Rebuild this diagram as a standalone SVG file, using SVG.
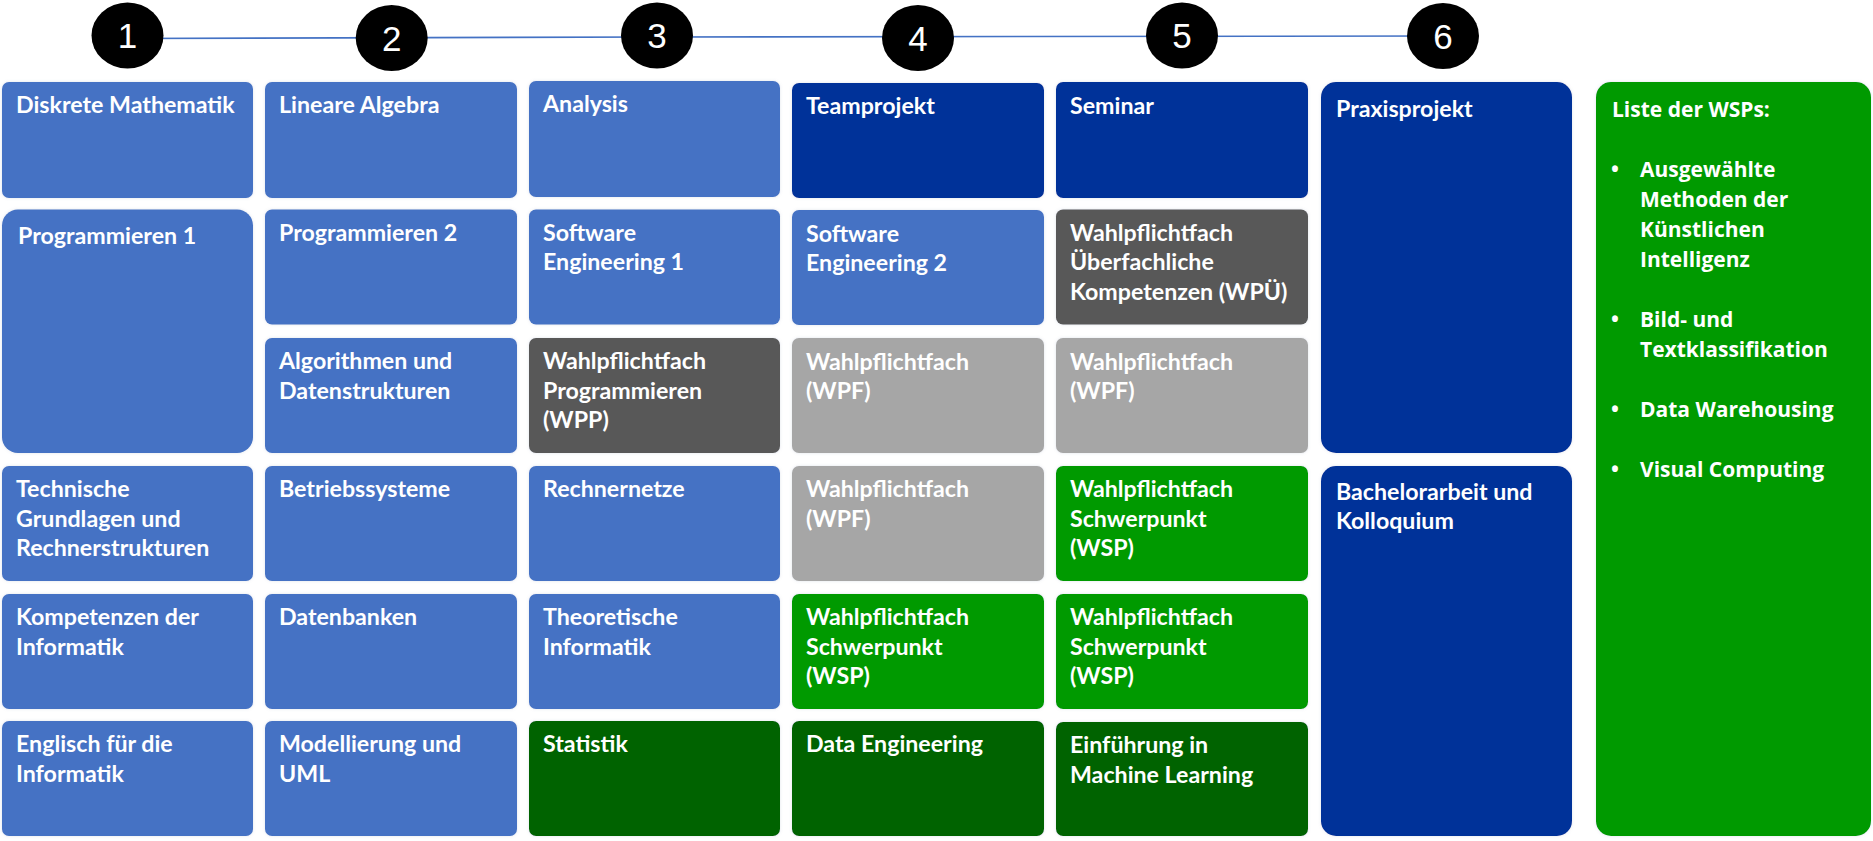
<svg xmlns="http://www.w3.org/2000/svg" width="1873" height="841" viewBox="0 0 1873 841">
<defs>
<style>
.lb{fill:#4472C4}.db{fill:#003399}.dg{fill:#595959}.lg{fill:#A6A6A6}.gr{fill:#009A00}.dk{fill:#006400}
.bx{filter:url(#sh)}
.t{font-family:Lato,"Liberation Sans",sans-serif;font-weight:700;font-size:23.2px;fill:#fff}
.w{font-family:"Open Sans","Liberation Sans",sans-serif;font-weight:700;font-size:21px;fill:#fff}
.num{font-family:"Liberation Sans",Arial,sans-serif;font-size:35px;fill:#fff;text-anchor:middle}
.circ{fill:#000}
.conn{stroke:#4472C4;stroke-width:1.6;fill:none}
</style>
<filter id="sh" x="-5%" y="-5%" width="110%" height="110%">
<feDropShadow dx="0" dy="0" stdDeviation="1.5" flood-color="#8090b0" flood-opacity="0.25"/>
</filter>
</defs>
<rect width="1873" height="841" fill="#fff"/>

<g id="connectors">
<polyline class="conn" points="127,38.5 657,37 1443,36"/>
</g>

<g id="sem1"><ellipse class="circ" cx="127.5" cy="35.5" rx="36" ry="33"/><text class="num" x="127.5" y="48">1</text></g>
<g id="sem2"><ellipse class="circ" cx="391.7" cy="38" rx="36" ry="33"/><text class="num" x="391.7" y="50.5">2</text></g>
<g id="sem3"><ellipse class="circ" cx="657" cy="35.5" rx="36" ry="33"/><text class="num" x="657" y="48">3</text></g>
<g id="sem4"><ellipse class="circ" cx="918" cy="38" rx="36" ry="33"/><text class="num" x="918" y="50.5">4</text></g>
<g id="sem5"><ellipse class="circ" cx="1182" cy="35.5" rx="36" ry="33"/><text class="num" x="1182" y="48">5</text></g>
<g id="sem6"><ellipse class="circ" cx="1443" cy="36" rx="36" ry="33"/><text class="num" x="1443" y="48.5">6</text></g>

<!-- Column 1 -->
<g id="diskrete-mathematik"><rect class="lb bx" x="2" y="82" width="251" height="116" rx="7"/><text class="t" x="16" y="113">Diskrete Mathematik</text></g>
<g id="programmieren-1"><rect class="lb bx" x="2" y="209.5" width="251" height="243.5" rx="16"/><text class="t" x="18" y="243.5">Programmieren 1</text></g>
<g id="technische-grundlagen"><rect class="lb bx" x="2" y="466" width="251" height="115" rx="7"/><text class="t" y="497"><tspan x="16">Technische</tspan><tspan x="16" dy="29.7">Grundlagen und</tspan><tspan x="16" dy="29.7">Rechnerstrukturen</tspan></text></g>
<g id="kompetenzen-informatik"><rect class="lb bx" x="2" y="594" width="251" height="115" rx="7"/><text class="t" y="625"><tspan x="16">Kompetenzen der</tspan><tspan x="16" dy="29.7">Informatik</tspan></text></g>
<g id="englisch"><rect class="lb bx" x="2" y="721" width="251" height="115" rx="7"/><text class="t" y="752"><tspan x="16">Englisch für die</tspan><tspan x="16" dy="29.7">Informatik</tspan></text></g>

<!-- Column 2 -->
<g id="lineare-algebra"><rect class="lb bx" x="265" y="82" width="252" height="116" rx="7"/><text class="t" x="279" y="113">Lineare Algebra</text></g>
<g id="programmieren-2"><rect class="lb bx" x="265" y="209.5" width="252" height="115" rx="7"/><text class="t" x="279" y="240.5">Programmieren 2</text></g>
<g id="algorithmen"><rect class="lb bx" x="265" y="338" width="252" height="115" rx="7"/><text class="t" y="369"><tspan x="279">Algorithmen und</tspan><tspan x="279" dy="29.7">Datenstrukturen</tspan></text></g>
<g id="betriebssysteme"><rect class="lb bx" x="265" y="466" width="252" height="115" rx="7"/><text class="t" x="279" y="497">Betriebssysteme</text></g>
<g id="datenbanken"><rect class="lb bx" x="265" y="594" width="252" height="115" rx="7"/><text class="t" x="279" y="625">Datenbanken</text></g>
<g id="modellierung"><rect class="lb bx" x="265" y="721" width="252" height="115" rx="7"/><text class="t" y="752"><tspan x="279">Modellierung und</tspan><tspan x="279" dy="29.7">UML</tspan></text></g>

<!-- Column 3 -->
<g id="analysis"><rect class="lb bx" x="529" y="81" width="251" height="116" rx="7"/><text class="t" x="543" y="112">Analysis</text></g>
<g id="software-engineering-1"><rect class="lb bx" x="529" y="209.5" width="251" height="115" rx="7"/><text class="t" y="240.5"><tspan x="543">Software</tspan><tspan x="543" dy="29.7">Engineering 1</tspan></text></g>
<g id="wpp"><rect class="dg bx" x="529" y="338" width="251" height="115" rx="7"/><text class="t" y="369"><tspan x="543">Wahlpflichtfach</tspan><tspan x="543" dy="29.7">Programmieren</tspan><tspan x="543" dy="29.7">(WPP)</tspan></text></g>
<g id="rechnernetze"><rect class="lb bx" x="529" y="466" width="251" height="115" rx="7"/><text class="t" x="543" y="497">Rechnernetze</text></g>
<g id="theoretische-informatik"><rect class="lb bx" x="529" y="594" width="251" height="115" rx="7"/><text class="t" y="625"><tspan x="543">Theoretische</tspan><tspan x="543" dy="29.7">Informatik</tspan></text></g>
<g id="statistik"><rect class="dk bx" x="529" y="721" width="251" height="115" rx="7"/><text class="t" x="543" y="752">Statistik</text></g>

<!-- Column 4 -->
<g id="teamprojekt"><rect class="db bx" x="792" y="83" width="252" height="115" rx="7"/><text class="t" x="806" y="113.5">Teamprojekt</text></g>
<g id="software-engineering-2"><rect class="lb bx" x="792" y="210" width="252" height="115" rx="7"/><text class="t" y="241.5"><tspan x="806">Software</tspan><tspan x="806" dy="29.7">Engineering 2</tspan></text></g>
<g id="wpf-4a"><rect class="lg bx" x="792" y="338" width="252" height="115" rx="7"/><text class="t" y="369.5"><tspan x="806">Wahlpflichtfach</tspan><tspan x="806" dy="29.7">(WPF)</tspan></text></g>
<g id="wpf-4b"><rect class="lg bx" x="792" y="466" width="252" height="115" rx="7"/><text class="t" y="497"><tspan x="806">Wahlpflichtfach</tspan><tspan x="806" dy="29.7">(WPF)</tspan></text></g>
<g id="wsp-4"><rect class="gr bx" x="792" y="594" width="252" height="115" rx="7"/><text class="t" y="625"><tspan x="806">Wahlpflichtfach</tspan><tspan x="806" dy="29.7">Schwerpunkt</tspan><tspan x="806" dy="29.7">(WSP)</tspan></text></g>
<g id="data-engineering"><rect class="dk bx" x="792" y="721" width="252" height="115" rx="7"/><text class="t" x="806" y="752">Data Engineering</text></g>

<!-- Column 5 -->
<g id="seminar"><rect class="db bx" x="1056" y="82" width="252" height="116" rx="7"/><text class="t" x="1070" y="113.5">Seminar</text></g>
<g id="wpue"><rect class="dg bx" x="1056" y="209.5" width="252" height="115" rx="7"/><text class="t" y="240.5"><tspan x="1070">Wahlpflichtfach</tspan><tspan x="1070" dy="29.7">Überfachliche</tspan><tspan x="1070" dy="29.7">Kompetenzen (WPÜ)</tspan></text></g>
<g id="wpf-5"><rect class="lg bx" x="1056" y="338" width="252" height="115" rx="7"/><text class="t" y="369.5"><tspan x="1070">Wahlpflichtfach</tspan><tspan x="1070" dy="29.7">(WPF)</tspan></text></g>
<g id="wsp-5a"><rect class="gr bx" x="1056" y="466" width="252" height="115" rx="7"/><text class="t" y="497"><tspan x="1070">Wahlpflichtfach</tspan><tspan x="1070" dy="29.7">Schwerpunkt</tspan><tspan x="1070" dy="29.7">(WSP)</tspan></text></g>
<g id="wsp-5b"><rect class="gr bx" x="1056" y="594" width="252" height="115" rx="7"/><text class="t" y="625"><tspan x="1070">Wahlpflichtfach</tspan><tspan x="1070" dy="29.7">Schwerpunkt</tspan><tspan x="1070" dy="29.7">(WSP)</tspan></text></g>
<g id="machine-learning"><rect class="dk bx" x="1056" y="722" width="252" height="114" rx="7"/><text class="t" y="753"><tspan x="1070">Einführung in</tspan><tspan x="1070" dy="29.7">Machine Learning</tspan></text></g>

<!-- Column 6 -->
<g id="praxisprojekt"><rect class="db bx" x="1321" y="82" width="251" height="371" rx="15"/><text class="t" x="1336" y="117">Praxisprojekt</text></g>
<g id="bachelorarbeit"><rect class="db bx" x="1321" y="466" width="251" height="370" rx="15"/><text class="t" y="499.5"><tspan x="1336">Bachelorarbeit und</tspan><tspan x="1336" dy="29.7">Kolloquium</tspan></text></g>

<!-- WSP list -->
<g id="wsp-liste"><rect class="gr bx" x="1596" y="82" width="275" height="754" rx="15"/>
<text class="w" x="1612" y="116.5">Liste der WSPs:</text>
<text class="w" x="1615" y="176.5" text-anchor="middle">•</text>
<text class="w" y="176.5"><tspan x="1640">Ausgewählte</tspan><tspan x="1640" dy="30.05">Methoden der</tspan><tspan x="1640" dy="30.05">Künstlichen</tspan><tspan x="1640" dy="30.05">Intelligenz</tspan></text>
<text class="w" x="1615" y="326.8" text-anchor="middle">•</text>
<text class="w" y="326.8"><tspan x="1640">Bild- und</tspan><tspan x="1640" dy="30.05">Textklassifikation</tspan></text>
<text class="w" x="1615" y="417.3" text-anchor="middle">•</text>
<text class="w" x="1640" y="417.3">Data Warehousing</text>
<text class="w" x="1615" y="477.4" text-anchor="middle">•</text>
<text class="w" x="1640" y="477.4">Visual Computing</text>
</g>
</svg>
